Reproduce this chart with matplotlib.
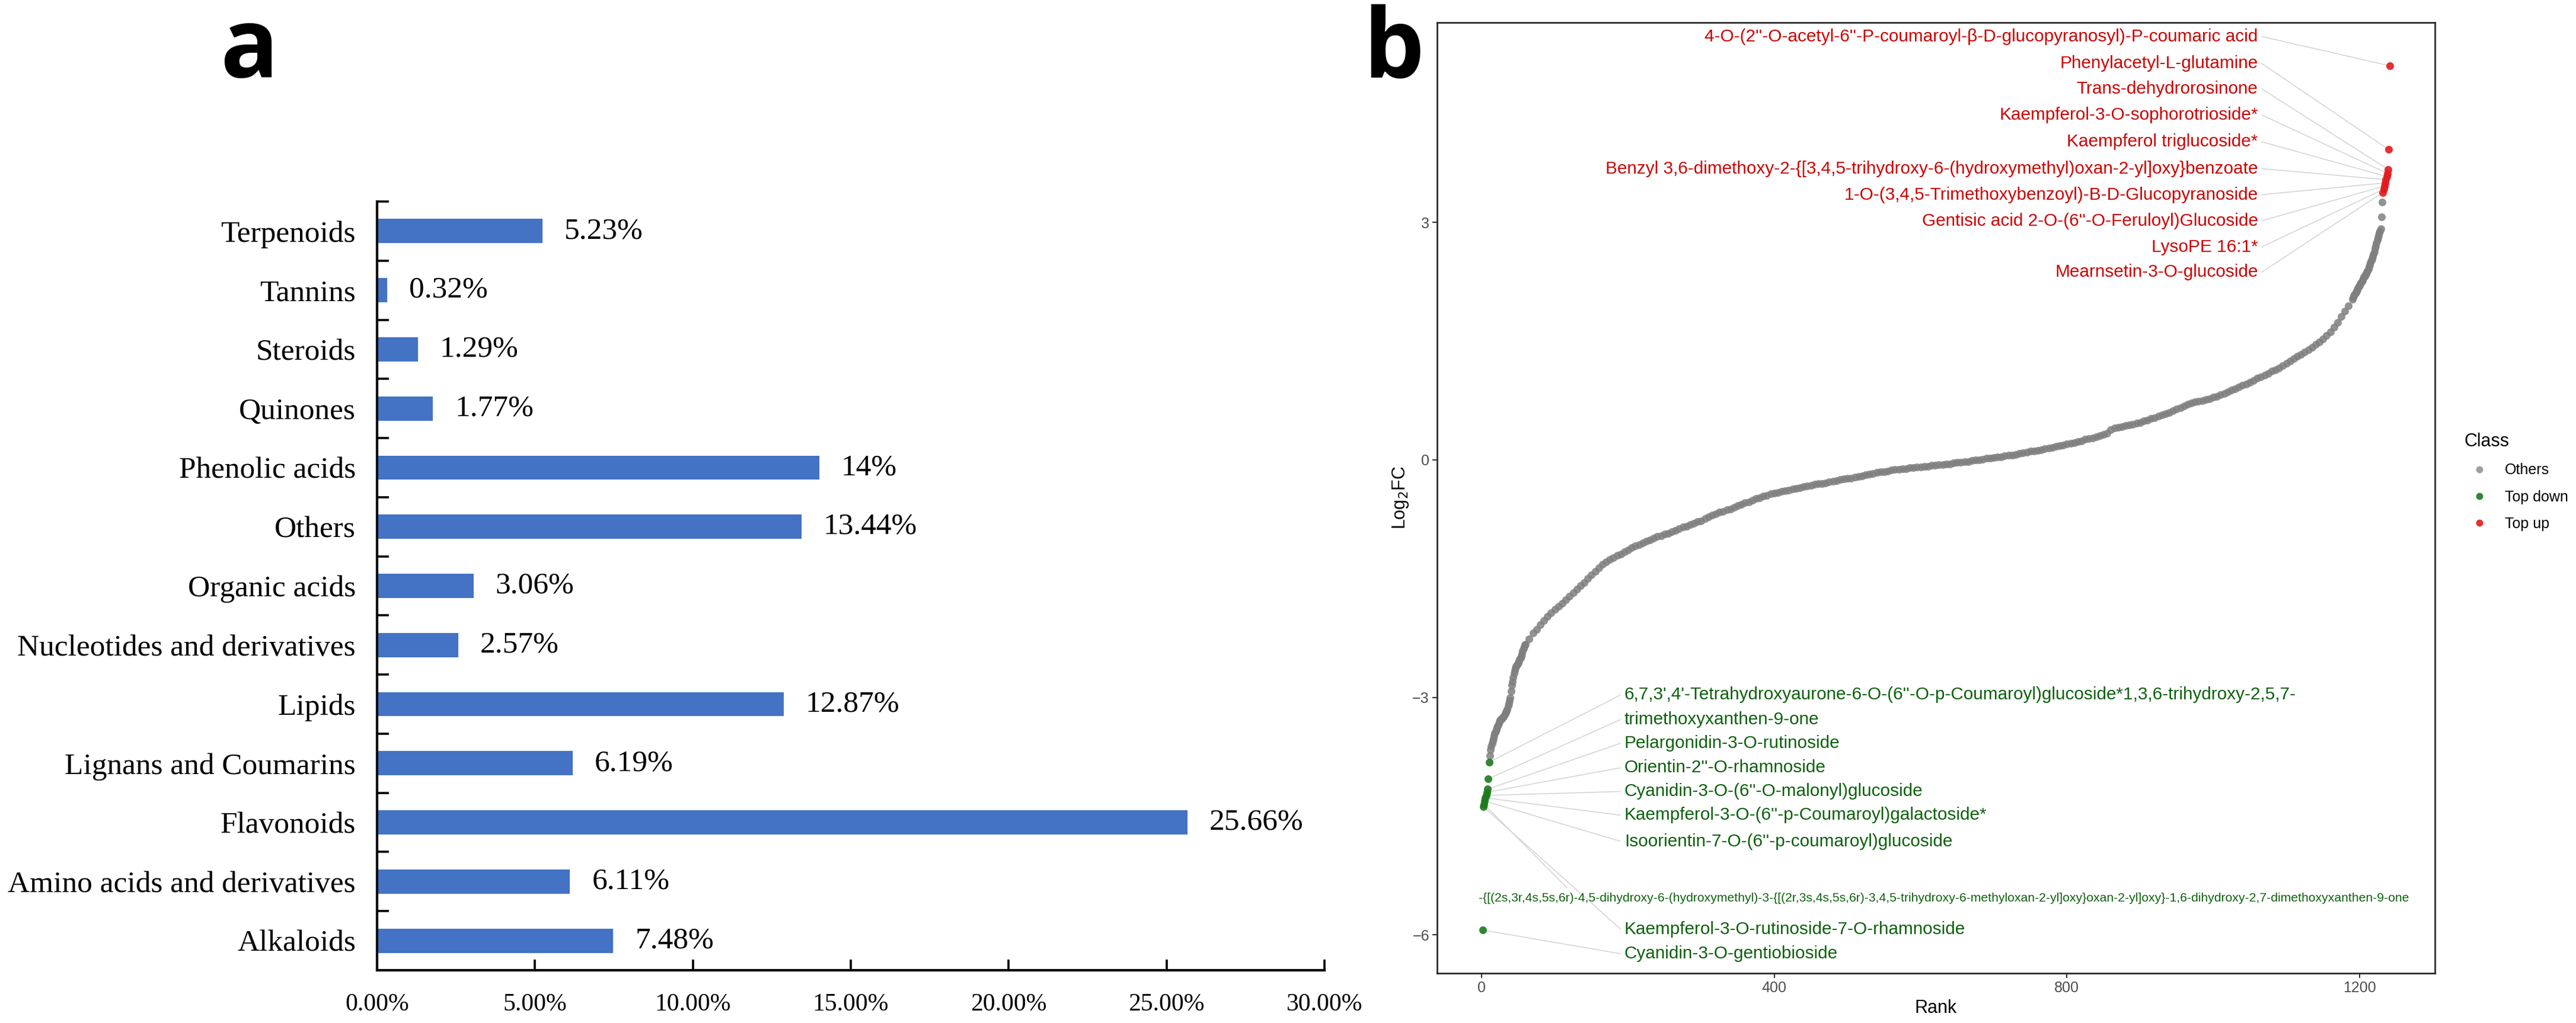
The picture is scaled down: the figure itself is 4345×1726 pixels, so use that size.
import numpy as np
import matplotlib
matplotlib.use("Agg")
import matplotlib.pyplot as plt
from matplotlib.lines import Line2D
from matplotlib.ticker import FixedLocator

# ---------------- Panel a data ----------------
categories = ["Alkaloids", "Amino acids and derivatives", "Flavonoids",
              "Lignans and Coumarins", "Lipids", "Nucleotides and derivatives",
              "Organic acids", "Others", "Phenolic acids", "Quinones",
              "Steroids", "Tannins", "Terpenoids"]
percentages = [7.48, 6.11, 25.66, 6.19, 12.87, 2.57, 3.06, 13.44, 14, 1.77,
               1.29, 0.32, 5.23]
x_ticks_a = [0, 5, 10, 15, 20, 25, 30]

# ---------------- Panel b data ----------------
down_rank = list(range(1, 11))
down_log2fc = [-5.94, -4.38, -4.35, -4.31, -4.27, -4.24, -4.20, -4.16, -4.03, -3.82]

up_rank = list(range(1232, 1242))
up_log2fc = [3.38, 3.42, 3.46, 3.50, 3.54, 3.58, 3.62, 3.67, 3.92, 4.98]

others_rank_low = list(range(11, 61))
others_log2fc_low = [
    -3.74, -3.66, -3.62, -3.58, -3.55, -3.52, -3.48, -3.45, -3.43, -3.41,
    -3.38, -3.36, -3.33, -3.31, -3.29, -3.28, -3.27, -3.26, -3.25, -3.24,
    -3.22, -3.20, -3.19, -3.17, -3.15, -3.11, -3.08, -3.04, -3.00, -2.92,
    -2.85, -2.80, -2.75, -2.70, -2.66, -2.63, -2.61, -2.60, -2.58, -2.56,
    -2.54, -2.52, -2.50, -2.48, -2.45, -2.41, -2.38, -2.36, -2.34, -2.33]

others_rank_mid = list(range(65, 1186, 5))
others_log2fc_mid = [
    -2.26, -2.19, -2.14, -2.08, -2.03, -1.98, -1.93, -1.89, -1.85, -1.81,
    -1.77, -1.72, -1.68, -1.63, -1.59, -1.55, -1.50, -1.45, -1.41, -1.36,
    -1.32, -1.29, -1.26, -1.24, -1.21, -1.19, -1.16, -1.14, -1.11, -1.09,
    -1.07, -1.05, -1.03, -1.01, -0.99, -0.97, -0.96, -0.94, -0.93, -0.91,
    -0.89, -0.87, -0.85, -0.84, -0.82, -0.80, -0.78, -0.77, -0.74, -0.72,
    -0.70, -0.68, -0.66, -0.65, -0.63, -0.62, -0.60, -0.58, -0.56, -0.54,
    -0.53, -0.51, -0.49, -0.48, -0.46, -0.45, -0.43, -0.42, -0.41, -0.40,
    -0.39, -0.38, -0.37, -0.36, -0.35, -0.34, -0.33, -0.32, -0.31, -0.30,
    -0.30, -0.29, -0.28, -0.27, -0.26, -0.25, -0.24, -0.23, -0.23, -0.22,
    -0.21, -0.20, -0.19, -0.18, -0.17, -0.16, -0.15, -0.15, -0.14, -0.13,
    -0.12, -0.12, -0.11, -0.11, -0.10, -0.10, -0.09, -0.09, -0.08, -0.08,
    -0.07, -0.07, -0.06, -0.06, -0.05, -0.05, -0.04, -0.03, -0.03, -0.02,
    -0.02, -0.01, 0.00, 0.00, 0.01, 0.02, 0.02, 0.03, 0.04, 0.04,
    0.05, 0.06, 0.06, 0.07, 0.08, 0.09, 0.10, 0.11, 0.11, 0.12,
    0.13, 0.14, 0.15, 0.16, 0.17, 0.18, 0.19, 0.20, 0.21, 0.22,
    0.23, 0.24, 0.26, 0.27, 0.28, 0.29, 0.31, 0.32, 0.34, 0.38,
    0.40, 0.41, 0.42, 0.43, 0.44, 0.45, 0.46, 0.47, 0.49, 0.50,
    0.52, 0.53, 0.55, 0.57, 0.58, 0.60, 0.62, 0.64, 0.66, 0.68,
    0.70, 0.72, 0.73, 0.74, 0.75, 0.76, 0.77, 0.79, 0.80, 0.82,
    0.84, 0.86, 0.88, 0.90, 0.92, 0.94, 0.96, 0.98, 1.00, 1.03,
    1.05, 1.07, 1.09, 1.12, 1.14, 1.16, 1.19, 1.22, 1.25, 1.28,
    1.31, 1.33, 1.36, 1.39, 1.42, 1.46, 1.49, 1.53, 1.57, 1.62,
    1.68, 1.74, 1.81, 1.88, 1.95]

others_rank_high = list(range(1190, 1232))
others_log2fc_high = [
    2.03, 2.05, 2.07, 2.09, 2.10, 2.12, 2.13, 2.15, 2.17, 2.19,
    2.20, 2.22, 2.24, 2.25, 2.27, 2.29, 2.31, 2.32, 2.34, 2.35,
    2.37, 2.39, 2.41, 2.44, 2.46, 2.49, 2.52, 2.54, 2.57, 2.60,
    2.63, 2.67, 2.70, 2.74, 2.78, 2.81, 2.84, 2.87, 2.89, 2.92,
    3.07, 3.26]

up_labels = [
    "4-O-(2''-O-acetyl-6''-P-coumaroyl-β-D-glucopyranosyl)-P-coumaric acid",
    "Phenylacetyl-L-glutamine",
    "Trans-dehydrorosinone",
    "Kaempferol-3-O-sophorotrioside*",
    "Kaempferol triglucoside*",
    "Benzyl 3,6-dimethoxy-2-{[3,4,5-trihydroxy-6-(hydroxymethyl)oxan-2-yl]oxy}benzoate",
    "1-O-(3,4,5-Trimethoxybenzoyl)-B-D-Glucopyranoside",
    "Gentisic acid 2-O-(6''-O-Feruloyl)Glucoside",
    "LysoPE 16:1*",
    "Mearnsetin-3-O-glucoside",
]
down_labels = [
    "6,7,3',4'-Tetrahydroxyaurone-6-O-(6''-O-p-Coumaroyl)glucoside*1,3,6-trihydroxy-2,5,7-",
    "trimethoxyxanthen-9-one",
    "Pelargonidin-3-O-rutinoside",
    "Orientin-2''-O-rhamnoside",
    "Cyanidin-3-O-(6''-O-malonyl)glucoside",
    "Kaempferol-3-O-(6''-p-Coumaroyl)galactoside*",
    "Isoorientin-7-O-(6''-p-coumaroyl)glucoside",
    "-{[(2s,3r,4s,5s,6r)-4,5-dihydroxy-6-(hydroxymethyl)-3-{[(2r,3s,4s,5s,6r)-3,4,5-trihydroxy-6-methyloxan-2-yl]oxy}oxan-2-yl]oxy}-1,6-dihydroxy-2,7-dimethoxyxanthen-9-one",
    "Kaempferol-3-O-rutinoside-7-O-rhamnoside",
    "Cyanidin-3-O-gentiobioside",
]
# which point (index into up/down arrays) each label points to
up_label_target = [9, 8, 7, 6, 5, 4, 3, 2, 1, 0]
down_label_target = [9, 8, 7, 6, 5, 4, 3, 2, 1, 0]

# ---------------- layout (label placement, not data) ----------------
up_label_x = 1061
up_label_y = [5.35, 5.01, 4.69, 4.36, 4.02, 3.68, 3.35, 3.02, 2.69, 2.37]
down_label_x = [195, 195, 195, 195, 195, 195, 195, -4, 195, 195]
down_label_y = [-2.97, -3.28, -3.58, -3.89, -4.19, -4.49, -4.82, -5.54, -5.93, -6.24]
down_seg_end = [(190, -2.97), (190, -3.28), (190, -3.58), (190, -3.89), (190, -4.19),
                (190, -4.49), (190, -4.82), (117, -5.41), (190, -5.93), (190, -6.24)]

W, H = 4345, 1726
fig = plt.figure(figsize=(W / 100, H / 100), dpi=100)

# ================= Panel a =================
serif = "Liberation Serif"
ax_a = fig.add_axes([636 / W, 1 - 1637 / H, (2234 - 636) / W, (1637 - 340) / H])
ypos = np.arange(len(categories))
bars = ax_a.barh(ypos, percentages, height=0.41, color="#4472C4", zorder=2)
ax_a.bar_label(bars, labels=[f"{v:g}%" for v in percentages], padding=26.5,
               fontsize=37, family=serif, color="black")
ax_a.set_xlim(0, 30)
ax_a.set_ylim(-0.5, len(categories) - 0.5)
ax_a.set_yticks(ypos)
ax_a.set_yticklabels(categories, fontsize=37, family=serif)
ax_a.yaxis.set_minor_locator(FixedLocator(np.arange(-0.5, len(categories), 1.0)))
ax_a.tick_params(axis="y", which="major", length=0, pad=26)
ax_a.tick_params(axis="y", which="minor", direction="in", length=14.5, width=2.6)
ax_a.set_xticks(x_ticks_a)
ax_a.set_xticklabels([f"{t:.2f}%" for t in x_ticks_a], fontsize=30, family=serif)
ax_a.tick_params(axis="x", which="major", direction="in", length=13, width=2.6, pad=28)
for s in ["top", "right"]:
    ax_a.spines[s].set_visible(False)
for s in ["left", "bottom"]:
    ax_a.spines[s].set_linewidth(3)
    ax_a.spines[s].set_color("black")

fig.text(371 / W, 1 - 130 / H, "a", fontsize=117, fontweight="bold",
         family="Open Sans", ha="left", va="baseline")
fig.text(2299 / W, 1 - 130 / H, "b", fontsize=117, fontweight="bold",
         family="Open Sans", ha="left", va="baseline")

# ================= Panel b =================
sans = "Liberation Sans"
ax_b = fig.add_axes([2424 / W, 1 - 1642 / H, (4107 - 2424) / W, (1642 - 38) / H])

c_gray, c_green, c_red = "#7f7f7f", "#1d7a1d", "#e3191c"
txt_green, txt_red = "#0b610b", "#c80000"

others_rank = others_rank_low + others_rank_mid + others_rank_high
others_log2fc = others_log2fc_low + others_log2fc_mid + others_log2fc_high

ms = 88
ax_b.scatter(others_rank, others_log2fc, s=ms, color=c_gray, alpha=0.85,
             linewidths=0, zorder=2)
ax_b.scatter(down_rank, down_log2fc, s=ms, color=c_green, alpha=0.9,
             linewidths=0, zorder=3)
ax_b.scatter(up_rank, up_log2fc, s=ms, color=c_red, alpha=0.9,
             linewidths=0, zorder=3)

seg_kw = dict(color="#d2d2d2", lw=1.1, zorder=1.5, solid_capstyle="butt")
lab_fs = 21.4
for i, lab in enumerate(up_labels):
    j = up_label_target[i]
    ax_b.plot([up_label_x + 5, up_rank[j]], [up_label_y[i], up_log2fc[j]], **seg_kw)
    ax_b.text(up_label_x, up_label_y[i], lab, ha="right", va="center",
              fontsize=lab_fs, family=sans, color=txt_red, zorder=4)
for i, lab in enumerate(down_labels):
    j = down_label_target[i]
    ex, ey = down_seg_end[i]
    ax_b.plot([down_rank[j], ex], [down_log2fc[j], ey], **seg_kw)
    fs = 15.2 if len(lab) > 100 else lab_fs
    ax_b.text(down_label_x[i], down_label_y[i], lab, ha="left", va="center",
              fontsize=fs, family=sans, color=txt_green, zorder=4)

all_rank = others_rank + down_rank + up_rank
all_fc = others_log2fc + down_log2fc + up_log2fc
xr = max(all_rank) - min(all_rank)
yr = max(all_fc) - min(all_fc)
ax_b.set_xlim(min(all_rank) - 0.05 * xr, max(all_rank) + 0.05 * xr)
ax_b.set_ylim(min(all_fc) - 0.05 * yr, max(all_fc) + 0.05 * yr)
ax_b.set_xticks([0, 400, 800, 1200])
ax_b.set_yticks([-6, -3, 0, 3])
ax_b.tick_params(axis="both", direction="out", length=5.5, width=1.5,
                 color="#333333", labelsize=18, labelcolor="#4d4d4d", pad=4)
for lab in ax_b.get_xticklabels() + ax_b.get_yticklabels():
    lab.set_family(sans)
for s in ax_b.spines.values():
    s.set_linewidth(1.9)
    s.set_color("#222222")
ax_b.set_xlabel("Rank", fontsize=22, family=sans, labelpad=5)
ax_b.set_ylabel("Log$_2$FC", fontsize=22, family=sans, labelpad=2.5)

handles = [Line2D([], [], marker="o", linestyle="", markersize=8.6,
                  markerfacecolor=c, markeredgewidth=0, alpha=a)
           for c, a in [(c_gray, 0.75), (c_green, 0.9), (c_red, 0.9)]]
leg = ax_b.legend(handles, ["Others", "Top down", "Top up"], title="Class",
                  loc="upper left", bbox_to_anchor=(4157 / W, 1 - 730 / H),
                  bbox_transform=fig.transFigure, frameon=False,
                  prop={"family": sans, "size": 18},
                  title_fontproperties={"family": sans, "size": 22},
                  handlelength=2.0, handletextpad=0.72, labelspacing=0.85,
                  borderpad=0, borderaxespad=0)
leg._legend_box.align = "left"

fig.savefig("out.png", dpi=100)
